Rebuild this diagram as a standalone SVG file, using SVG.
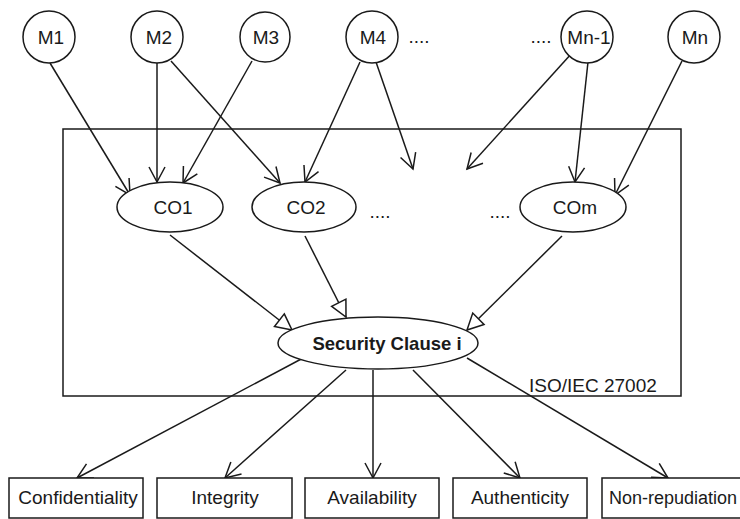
<svg xmlns="http://www.w3.org/2000/svg" width="740" height="519" viewBox="0 0 740 519">
<style>
  .n { fill: #fff; stroke: #1a1a1a; stroke-width: 1.5; }
  .t { font-family: "Liberation Sans", Arial, sans-serif; font-size: 19px; fill: #1a1a1a; text-anchor: middle; }
  .b { font-weight: bold; font-size: 18.5px; }
  .c { fill: none; stroke: #1a1a1a; stroke-width: 1.5; }
</style>
<defs>
  <marker id="v" markerUnits="userSpaceOnUse" markerWidth="18" markerHeight="18" refX="15" refY="8" orient="auto" viewBox="0 0 18 16" overflow="visible">
    <path d="M0,0 L15,8 L0,16" fill="none" stroke="#1a1a1a" stroke-width="1.5"/>
  </marker>
  <marker id="tri" markerUnits="userSpaceOnUse" markerWidth="18" markerHeight="18" refX="16" refY="8" orient="auto" viewBox="0 0 18 16" overflow="visible">
    <path d="M0,0 L16,8 L0,16 Z" fill="#fff" stroke="#1a1a1a" stroke-width="1.5"/>
  </marker>
</defs>
<rect width="740" height="519" fill="#fff"/>

<g id="iso">
  <rect x="63" y="129" width="618" height="267" fill="none" stroke="#1a1a1a" stroke-width="1.5"/>
  <text class="t" x="529" y="392" style="text-anchor:start">ISO/IEC 27002</text>
</g>

<g id="connectors">
  <line class="c" x1="50" y1="63" x2="130" y2="195" marker-end="url(#v)"/>
  <line class="c" x1="157" y1="63" x2="157" y2="182" marker-end="url(#v)"/>
  <line class="c" x1="171" y1="61" x2="280" y2="183" marker-end="url(#v)"/>
  <line class="c" x1="252" y1="61" x2="183" y2="183" marker-end="url(#v)"/>
  <line class="c" x1="360" y1="62" x2="305" y2="182" marker-end="url(#v)"/>
  <line class="c" x1="376" y1="62" x2="413" y2="169" marker-end="url(#v)"/>
  <line class="c" x1="572" y1="53" x2="467" y2="169" marker-end="url(#v)"/>
  <line class="c" x1="588" y1="62" x2="575" y2="182" marker-end="url(#v)"/>
  <line class="c" x1="682" y1="61" x2="615" y2="195" marker-end="url(#v)"/>

  <line class="c" x1="170" y1="235" x2="292" y2="330" marker-end="url(#tri)"/>
  <line class="c" x1="305" y1="236" x2="346" y2="317" marker-end="url(#tri)"/>
  <line class="c" x1="562" y1="236" x2="467" y2="330" marker-end="url(#tri)"/>

  <line class="c" x1="305" y1="357" x2="77" y2="478" marker-end="url(#v)"/>
  <line class="c" x1="346" y1="370" x2="225" y2="478" marker-end="url(#v)"/>
  <line class="c" x1="373" y1="370" x2="373" y2="478" marker-end="url(#v)"/>
  <line class="c" x1="413" y1="370" x2="520" y2="478" marker-end="url(#v)"/>
  <line class="c" x1="467" y1="358" x2="668" y2="478" marker-end="url(#v)"/>
</g>

<g id="M1"><circle class="n" cx="49" cy="37" r="26"/><text class="t" x="51" y="44">M1</text></g>
<g id="M2"><circle class="n" cx="157" cy="37" r="26"/><text class="t" x="159" y="44">M2</text></g>
<g id="M3"><circle class="n" cx="265" cy="37" r="25"/><text class="t" x="266" y="44">M3</text></g>
<g id="M4"><circle class="n" cx="372" cy="37" r="26"/><text class="t" x="373" y="44">M4</text></g>
<g id="dots1"><text class="t" x="419" y="43">....</text></g>
<g id="dots2"><text class="t" x="541" y="43">....</text></g>
<g id="Mn-1"><circle class="n" cx="587" cy="37" r="26"/><text class="t" x="589" y="44">Mn-1</text></g>
<g id="Mn"><circle class="n" cx="694" cy="37" r="26"/><text class="t" x="695" y="44">Mn</text></g>

<g id="CO1"><ellipse class="n" cx="170" cy="207" rx="53" ry="25"/><text class="t" x="173" y="214">CO1</text></g>
<g id="CO2"><ellipse class="n" cx="304" cy="207" rx="52" ry="25"/><text class="t" x="306" y="214">CO2</text></g>
<g id="dots3"><text class="t" x="380" y="218">....</text></g>
<g id="dots4"><text class="t" x="500" y="218">....</text></g>
<g id="COm"><ellipse class="n" cx="573" cy="207" rx="53" ry="25"/><text class="t" x="575" y="214">COm</text></g>

<g id="SC"><ellipse class="n" cx="378" cy="343" rx="100" ry="26"/><text class="t b" x="387" y="350">Security Clause i</text></g>

<g id="Confidentiality"><rect class="n" x="9" y="478" width="134" height="40"/><text class="t" x="78" y="504">Confidentiality</text></g>
<g id="Integrity"><rect class="n" x="157" y="478" width="135" height="40"/><text class="t" x="225" y="504">Integrity</text></g>
<g id="Availability"><rect class="n" x="305" y="478" width="134" height="40"/><text class="t" x="372" y="504">Availability</text></g>
<g id="Authenticity"><rect class="n" x="453" y="478" width="134" height="40"/><text class="t" x="520" y="504">Authenticity</text></g>
<g id="Non-repudiation"><rect class="n" x="602" y="478" width="145" height="40"/><text class="t" x="609" y="504" style="text-anchor:start;font-size:18px">Non-repudiation</text></g>
</svg>
